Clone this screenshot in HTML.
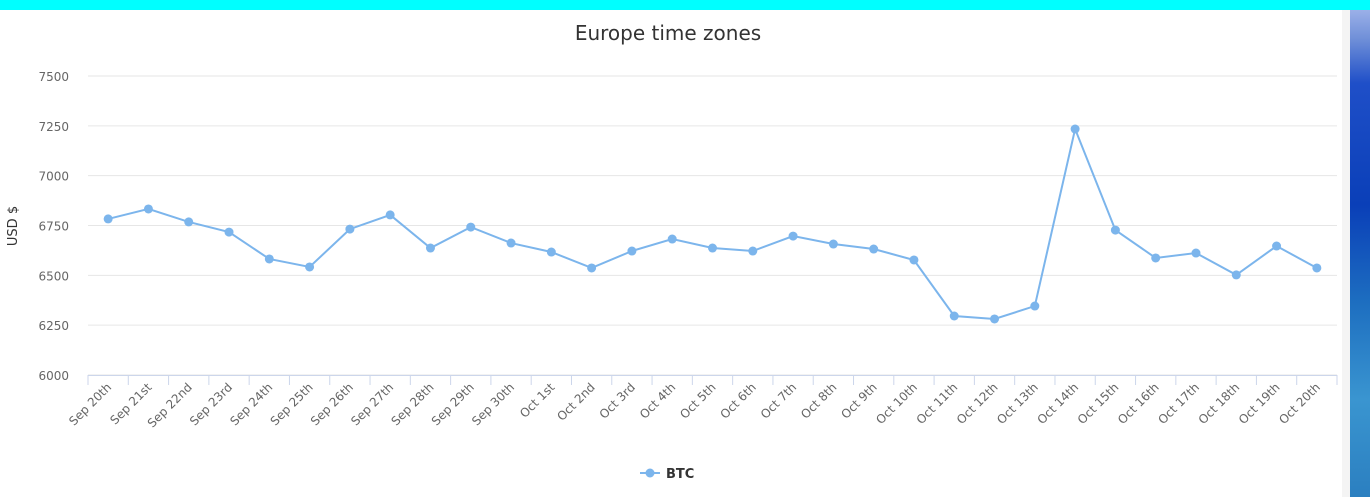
<!DOCTYPE html>
<html><head><meta charset="utf-8">
<style>
body{margin:0;width:1370px;height:497px;overflow:hidden;background:#fff;font-family:"Liberation Sans","DejaVu Sans",sans-serif;position:relative}
#topbar{position:absolute;left:0;top:0;width:1370px;height:10px;background:#00ffff}
#side{position:absolute;left:1350px;top:10px;width:20px;height:487px;background:linear-gradient(180deg,#9bb0e8 0%,#6f8fd8 6%,#1f4fc8 15%,#0a3fb8 40%,#1d6ec0 60%,#3a95d0 80%,#2b7fc0 100%)}
#sideedge{position:absolute;left:1342px;top:10px;width:8px;height:487px;background:#f4f4f4}
svg{position:absolute;left:0;top:0}
</style></head><body>
<div id="topbar"></div>
<div id="sideedge"></div>
<div id="side"></div>
<svg id="chart" width="1342" height="497"></svg>
<script>
const categories=["Sep 20th","Sep 21st","Sep 22nd","Sep 23rd","Sep 24th","Sep 25th","Sep 26th","Sep 27th","Sep 28th","Sep 29th","Sep 30th","Oct 1st","Oct 2nd","Oct 3rd","Oct 4th","Oct 5th","Oct 6th","Oct 7th","Oct 8th","Oct 9th","Oct 10th","Oct 11th","Oct 12th","Oct 13th","Oct 14th","Oct 15th","Oct 16th","Oct 17th","Oct 18th","Oct 19th","Oct 20th"];
const btcValues=[6783,6833,6768,6717,6582,6542,6732,6803,6637,6742,6662,6617,6537,6622,6682,6637,6622,6697,6657,6632,6577,6296,6281,6346,7234,6727,6587,6612,6502,6647,6537];
const yTicks=[6000,6250,6500,6750,7000,7250,7500];
const NS="http://www.w3.org/2000/svg";
const svg=document.getElementById('chart');
const L=88,R=1337,T=76,B=375,yMin=6000,yMax=7500;
const bw=(R-L)/categories.length;
const xOf=i=>L+bw*(i+0.5);
const yOf=v=>B-(v-yMin)/(yMax-yMin)*(B-T);
function mk(tag,attrs,txt){const e=document.createElementNS(NS,tag);for(const k in attrs)e.setAttribute(k,attrs[k]);if(txt!=null)e.textContent=txt;svg.appendChild(e);return e;}
let t=mk('text',{x:668,y:40,'text-anchor':'middle','font-size':20,fill:'#333','font-family':'DejaVu Sans, sans-serif'},'Europe time zones');


yTicks.forEach(v=>{
  const g=mk('line',{x1:L,x2:R,y1:yOf(v),y2:yOf(v),stroke:'#e6e6e6','stroke-width':1});
  
  
  const l=mk('text',{x:69,y:yOf(v)+5,'text-anchor':'end','font-size':12,fill:'#666','font-family':'DejaVu Sans, sans-serif'},v);
  
  
});
let yt=mk('text',{x:0,y:0,transform:'translate(17,226) rotate(-90)','text-anchor':'middle','font-size':13,fill:'#333','font-family':'DejaVu Sans, sans-serif'},'USD $');


let ax=mk('line',{x1:L,x2:R,y1:B+0.5,y2:B+0.5,stroke:'#ccd6eb'});


for(let i=0;i<=categories.length;i++){
  const tk=mk('line',{x1:L+bw*i,x2:L+bw*i,y1:B,y2:B+10,stroke:'#ccd6eb'});
  
  
}
categories.forEach((c,i)=>{
  const x=xOf(i)+4,y=388;
  const l=mk('text',{x:x,y:y,transform:`rotate(-45 ${x} ${y})`,'text-anchor':'end','font-size':12,fill:'#666','font-family':'DejaVu Sans, sans-serif'},c);
  
  
});
const pts=btcValues.map((v,i)=>xOf(i)+','+yOf(v)).join(' ');
let pl=mk('polyline',{points:pts,fill:'none',stroke:'#7cb5ec','stroke-width':2});


btcValues.forEach((v,i)=>{
  const c=mk('circle',{cx:xOf(i),cy:yOf(v),r:4.5,fill:'#7cb5ec'});
  
  
});
let ll=mk('line',{x1:640,x2:660,y1:473,y2:473,stroke:'#7cb5ec','stroke-width':2});


let lc=mk('circle',{cx:650,cy:473,r:4.5,fill:'#7cb5ec'});


let lt=mk('text',{x:666,y:478,'font-size':13,'font-weight':'bold',fill:'#333','font-family':'DejaVu Sans, sans-serif'},'BTC');


</script>
</body></html>
